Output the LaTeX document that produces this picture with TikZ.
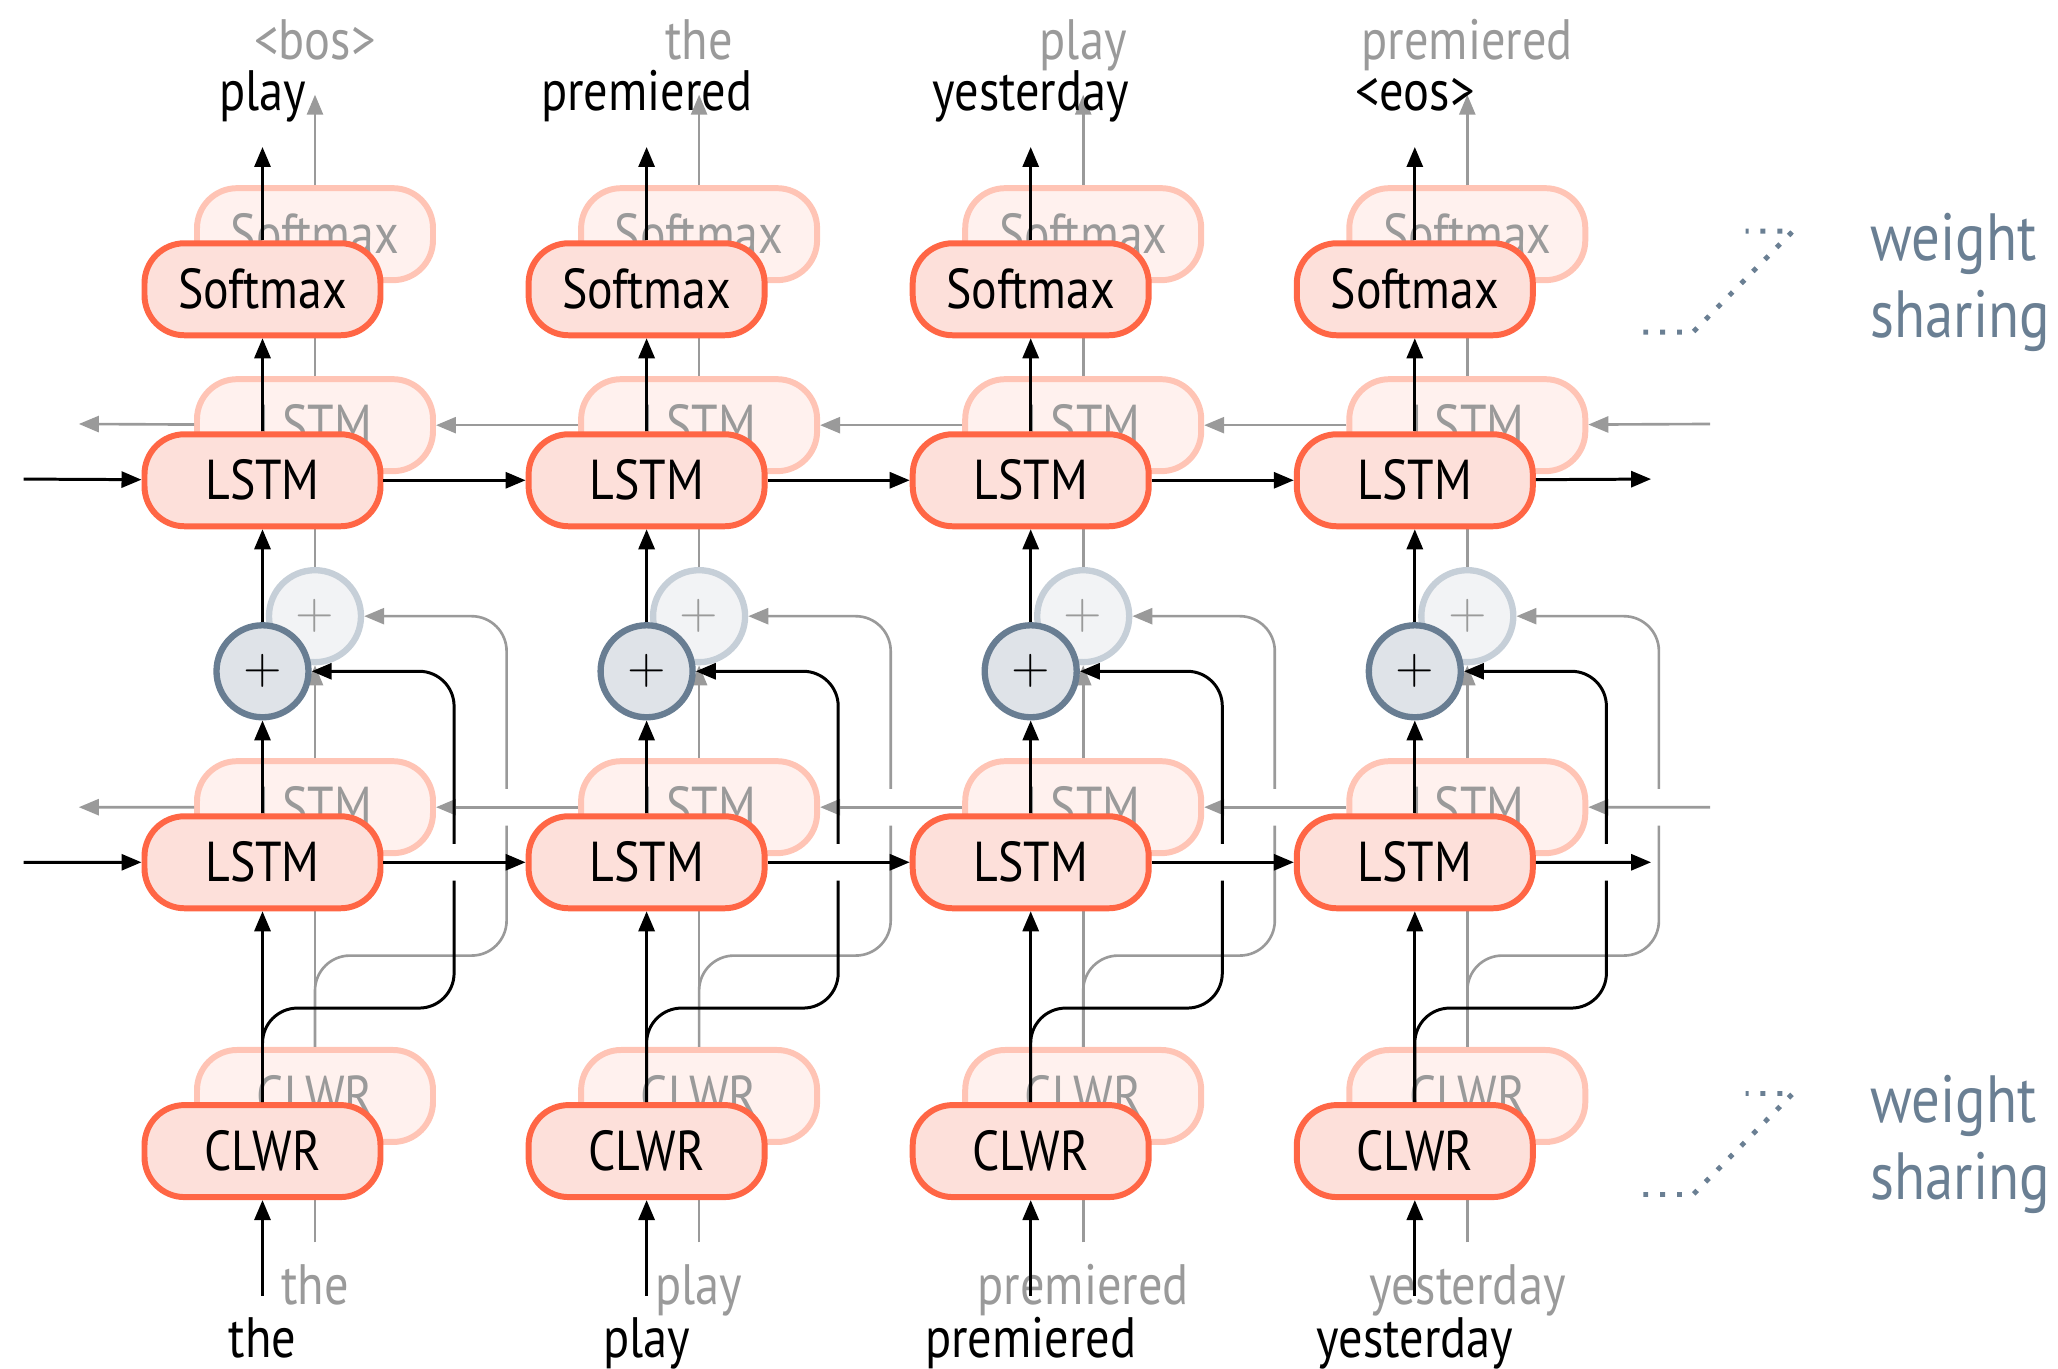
\documentclass[tikz,border=0pt]{standalone}
\usepackage{fontspec}
\setmainfont{PT Sans}[FakeStretch=0.85]
\usepackage{tikz}
\usetikzlibrary{arrows.meta, positioning}
\definecolor{boxline}{HTML}{FF6645}
\definecolor{boxfill}{HTML}{FDE0DA}
\definecolor{gboxline}{HTML}{FFC4B5}
\definecolor{gboxfill}{HTML}{FFF1EE}
\definecolor{sumline}{HTML}{687D92}
\definecolor{sumfill}{HTML}{DFE3E8}
\definecolor{gsumline}{HTML}{C6CFD8}
\definecolor{gsumfill}{HTML}{F2F3F5}
\definecolor{ghost}{HTML}{9A9A9A}
\definecolor{slate}{HTML}{6A7F93}
\tikzstyle{box} = [rectangle, rounded corners=0.4cm, draw=boxline, fill=boxfill, line width=1.7pt, minimum width=2.36cm, minimum height=0.92cm, font=\fontsize{16}{19}\selectfont]
\tikzstyle{gbox} = [box, draw=gboxline, fill=gboxfill, text=ghost]
\tikzstyle{circ} = [circle, draw=sumline, fill=sumfill, line width=1.8pt, minimum size=0.92cm, inner sep=0pt, font=\fontsize{15}{18}\selectfont]
\tikzstyle{gcirc} = [circ, draw=gsumline, fill=gsumfill, text=ghost]
\tikzstyle{word} = [inner sep=0pt, text height=0.515cm, text depth=0.145cm, font=\fontsize{16.2}{19}\selectfont]
\tikzstyle{gword} = [word, text=ghost]
\tikzstyle{line} = [line width=0.85pt, >={Triangle[length=2mm, width=1.6mm]}]
\tikzstyle{gline} = [line, ghost, line width=0.75pt]
\tikzstyle{note} = [anchor=west, align=left, inner sep=0pt, text=slate, font=\fontsize{19}{21.8}\selectfont]
\tikzstyle{dots} = [slate, line width=1.4pt, dash pattern=on 1.4pt off 3.4pt]

\begin{document}
\begin{tikzpicture}[node distance=1.91cm, on grid]
\useasboundingbox (0,0) rectangle (20.58,13.69);
\foreach \i/\x/\gw/\go in {1/3.150/the/<bos>, 2/6.991/play/the, 3/10.832/premiered/play, 4/14.673/yesterday/premiered} {
  \node (gclwr\i) [gbox] at (\x,2.730) {CLWR};
  \node (glstmA\i) [gbox, above=2.888cm of gclwr\i] {LSTM};
  \node (gsum\i) [gcirc, above=of glstmA\i] {$+$};
  \node (glstmB\i) [gbox, above=of gsum\i] {LSTM};
  \node (gsoft\i) [gbox, above=of glstmB\i] {Softmax};
  \node (gin\i) [gword, below=1.902cm of gclwr\i] {\gw};
  \node (gout\i) [gword, above=1.932cm of gsoft\i] {\go};
  \draw [gline,->, shorten <=0.10cm] (gin\i) -- (gclwr\i);
  \draw [gline,->] (gclwr\i) -- (glstmA\i);
  \draw [gline,->] (glstmA\i) -- (gsum\i);
  \draw [gline,->] (gsum\i) -- (glstmB\i);
  \draw [gline,->] (glstmB\i) -- (gsoft\i);
  \draw [gline,->, shorten >=0.20cm] (gsoft\i) -- (gout\i);
  \draw [gline, rounded corners=0.35cm] (gclwr\i) |- (\x+1.916,4.134) -- (\x+1.916,5.434);
  \draw [gline,->, rounded corners=0.35cm] (\x+1.916,5.802) |- (gsum\i);
}
\coordinate (glstmA0) at (0.788,5.618);
\coordinate (glstmA5) at (17.102,5.618);
\coordinate (glstmB0) at (0.788,9.450);
\coordinate (glstmB5) at (17.102,9.450);
\foreach \i/\j in {0/1,1/2,2/3,3/4,4/5} {
  \draw [gline,->] (glstmA\j) -- (glstmA\i);
  \draw [gline,->] (glstmB\j) -- (glstmB\i);
}

\foreach \i/\x/\w/\o in {1/2.625/the/play, 2/6.466/play/premiered, 3/10.307/premiered/yesterday, 4/14.148/yesterday/<eos>} {
  \node (clwr\i) [box, below left=0.551cm and 0.525cm of gclwr\i] {CLWR};
  \node (lstmA\i) [box, above=2.888cm of clwr\i] {LSTM};
  \node (sum\i) [circ, above=of lstmA\i] {$+$};
  \node (lstmB\i) [box, above=of sum\i] {LSTM};
  \node (soft\i) [box, above=of lstmB\i] {Softmax};
  \node (in\i) [word, below=1.876cm of clwr\i] {\w};
  \node (out\i) [word, above=1.970cm of soft\i] {\o};
  \draw [line,->, shorten <=0.09cm] (in\i) -- (clwr\i);
  \draw [line,->] (clwr\i) -- (lstmA\i);
  \draw [line,->] (lstmA\i) -- (sum\i);
  \draw [line,->] (sum\i) -- (lstmB\i);
  \draw [line,->] (lstmB\i) -- (soft\i);
  \draw [line,->, shorten >=0.21cm] (soft\i) -- (out\i);
  \draw [line, rounded corners=0.35cm] (clwr\i) |- (\x+1.916,3.609) -- (\x+1.916,4.883);
  \draw [line,->, rounded corners=0.35cm] (\x+1.916,5.251) |- (sum\i);
}
\coordinate (lstmA0) at (0.236,5.067);
\coordinate (lstmA5) at (16.511,5.067);
\coordinate (lstmB0) at (0.236,8.899);
\coordinate (lstmB5) at (16.511,8.899);
\foreach \i/\j in {0/1,1/2,2/3,3/4,4/5} {
  \draw [line,->] (lstmA\i) -- (lstmA\j);
  \draw [line,->] (lstmB\i) -- (lstmB\j);
}

\node (share1) [note] at (18.70,10.868) {weight\\sharing};
\node (share2) [note] at (18.70,2.244) {weight\\sharing};
\foreach \n in {share1, share2}
  \draw [dots] (\n.west) ++(-2.267,-0.499) -- ++(0.498,0) -- ++(0.998,1.010) -- ++(-0.473,0);
\end{tikzpicture}
\end{document}
